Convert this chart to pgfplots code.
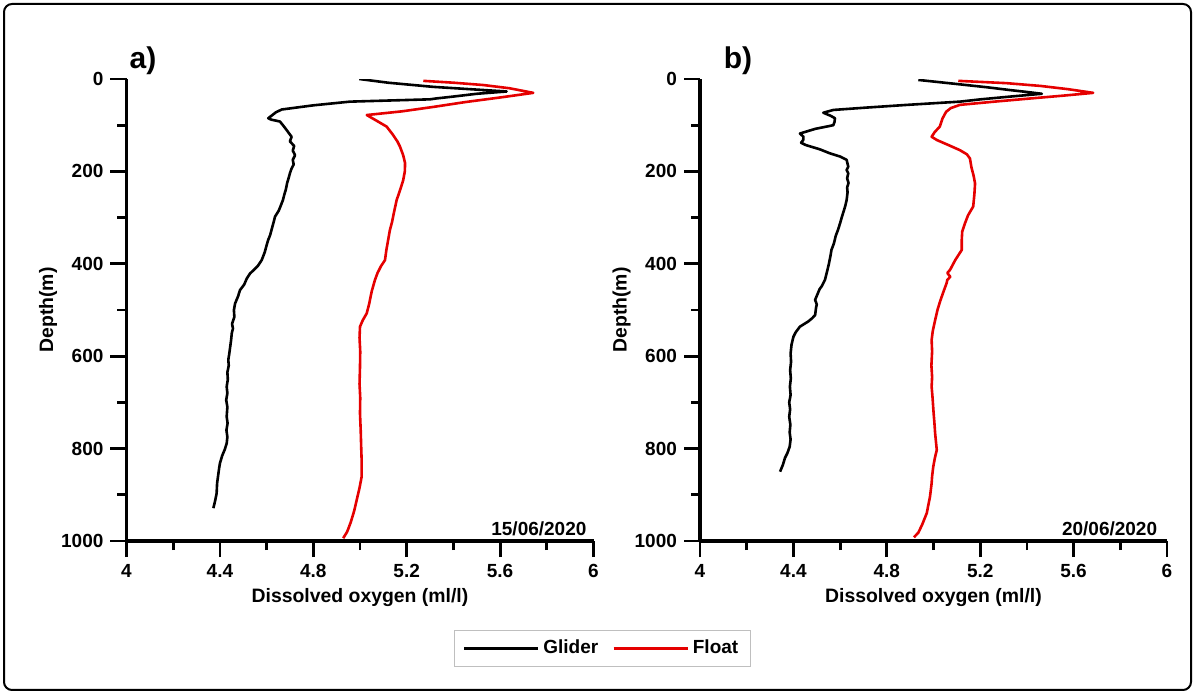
\documentclass[border=0pt]{standalone}
\usepackage{fontspec}
\setmainfont{Liberation Sans}
\usepackage{pgfplots}
\pgfplotsset{compat=1.18}

\pgfplotsset{
 panel/.style={
  scale only axis, width=233.5pt, height=231pt,
  xmin=4, xmax=6, ymin=0, ymax=1000, y dir=reverse,
  clip mode=individual,
  axis x line*=bottom, axis y line*=left,
  axis line style={line width=1.6pt},
  every tick/.style={line width=1.4pt, black},
  tick align=outside,
  major tick length=8pt, minor tick length=4.5pt,
  xtick={4,4.4,4.8,5.2,5.6,6}, minor xtick={4.2,4.6,5,5.4,5.8},
  ytick={0,200,400,600,800,1000}, minor ytick={100,300,500,700,900},
  /pgf/number format/assume math mode=true,
  /pgf/number format/set thousands separator={},
  tick label style={font=\fontsize{9.5}{11}\selectfont\bfseries},
  label style={font=\fontsize{9.7}{11}\selectfont\bfseries},
  xlabel={Dissolved oxygen (ml/l)},
  ylabel={Depth(m)},
  xlabel style={at={(axis description cs:0.5,-0.134)}, anchor=base},
  ylabel style={at={(axis description cs:-0.168,0.5)}, anchor=center},
 },
 glider/.style={black, line width=1.3pt, line join=round},
 float/.style={red!90!black, line width=1.3pt, line join=round},
}

\begin{document}
\begin{tikzpicture}
\useasboundingbox (0,0) rectangle (597.5pt,-347pt);
\draw[line width=1pt, rounded corners=4pt] (2pt,-2pt) rectangle (595.5pt,-345pt);

% ---------------- panel a ----------------
\begin{axis}[panel, at={(63.25pt,-270.5pt)}, anchor=south west,
  legend columns=2,
  legend style={at={(axis description cs:1.0193,-0.2327)}, anchor=center,
    draw=gray!50, line width=0.6pt, font=\fontsize{9.5}{11}\selectfont\bfseries,
    inner xsep=4pt, inner ysep=3pt,
    /tikz/every even column/.append style={column sep=5pt}},
  legend image code/.code={\draw[#1] (0pt,0pt) -- (37pt,0pt);},
]
\addplot[glider] coordinates {
(4.997,0) (5.12,8) (5.313,17) (5.47,22) (5.628,27) (5.50,32) (5.40,38) (5.328,42) (5.30,44)
(4.957,49) (4.80,57) (4.665,66) (4.64,72) (4.607,85) (4.62,88) (4.657,92) (4.67,100)
(4.685,110) (4.707,125) (4.700,135) (4.718,145) (4.712,155) (4.722,165) (4.712,175) (4.716,185)
(4.706,195) (4.700,204) (4.694,215) (4.688,225) (4.682,240) (4.676,250) (4.670,262)
(4.660,275) (4.652,285) (4.636,298) (4.630,310) (4.622,325) (4.615,338) (4.607,348)
(4.600,360) (4.592,375) (4.579,392) (4.562,405) (4.548,412) (4.529,421) (4.515,432)
(4.504,445) (4.486,457) (4.478,470) (4.465,486) (4.460,500) (4.462,515) (4.452,530)
(4.456,540) (4.451,550) (4.448,565) (4.444,580) (4.440,595) (4.436,608) (4.438,620)
(4.432,635) (4.434,650) (4.429,666) (4.432,680) (4.427,695) (4.432,710) (4.429,731)
(4.433,745) (4.428,760) (4.432,775) (4.429,789) (4.420,803) (4.410,815) (4.400,832)
(4.396,845) (4.392,860) (4.388,875) (4.386,897) (4.380,912) (4.372,929)
};
\addlegendentry{Glider}
\addplot[float] coordinates {
(5.271,4) (5.40,8) (5.527,13) (5.64,20) (5.742,30) (5.60,40) (5.45,50) (5.32,60)
(5.18,70) (5.029,78) (5.07,90) (5.114,103) (5.14,120) (5.160,135) (5.171,146)
(5.185,165) (5.193,182) (5.192,200) (5.185,219) (5.172,240) (5.157,262) (5.145,290)
(5.137,310) (5.128,327) (5.120,350) (5.113,370) (5.107,392) (5.090,405) (5.075,420)
(5.064,435) (5.050,460) (5.040,485) (5.029,507) (5.012,522) (5.000,536) (4.998,560)
(5.001,590) (5.000,623) (4.998,660) (5.001,690) (5.000,724) (5.003,760) (5.005,795)
(5.007,825) (5.007,861) (4.998,885) (4.986,911) (4.975,935) (4.960,960) (4.945,980) (4.928,994)
};
\addlegendentry{Float}
\node[anchor=base east, font=\fontsize{9.5}{11}\selectfont\bfseries]
  at (axis description cs:1,0.011) {15/06/2020};
\node[anchor=base west, inner sep=0pt, font=\fontsize{15}{17}\selectfont\bfseries]
  at (axis description cs:0.006,1.0238) {a)};
\end{axis}

% ---------------- panel b ----------------
\begin{axis}[panel, at={(350pt,-270.5pt)}, anchor=south west]
\addplot[glider] coordinates {
(4.935,2) (5.084,10) (5.231,18) (5.328,24) (5.399,28) (5.464,32) (5.330,38) (5.202,44)
(5.113,49) (4.887,56) (4.709,62) (4.571,67) (4.528,73) (4.561,80) (4.578,85) (4.576,93)
(4.571,100) (4.493,108) (4.428,118) (4.443,125) (4.442,132) (4.433,138) (4.453,143)
(4.512,152) (4.557,161) (4.601,168) (4.628,175) (4.635,190) (4.628,197) (4.635,204)
(4.630,215) (4.636,225) (4.630,235) (4.632,245) (4.628,262) (4.622,275) (4.616,285)
(4.608,298) (4.600,312) (4.592,325) (4.581,340) (4.574,355) (4.563,370) (4.558,385)
(4.552,400) (4.545,415) (4.535,435) (4.522,448) (4.512,455) (4.493,478) (4.500,488)
(4.497,495) (4.493,511) (4.480,518) (4.463,525) (4.428,536) (4.410,548) (4.400,558)
(4.392,575) (4.388,594) (4.390,612) (4.386,630) (4.389,648) (4.385,666) (4.388,684)
(4.382,700) (4.386,715) (4.382,731) (4.387,748) (4.384,765) (4.388,780) (4.384,796)
(4.374,810) (4.364,820) (4.355,835) (4.343,850)
};
\addplot[float] coordinates {
(5.106,4) (5.313,9) (5.458,15) (5.576,22) (5.684,30) (5.556,36) (5.418,42) (5.261,49)
(5.113,56) (5.074,63) (5.054,71) (5.039,85) (5.027,103) (5.005,115) (4.992,125)
(5.014,132) (5.064,143) (5.113,154) (5.143,163) (5.156,172) (5.162,190) (5.172,210)
(5.178,226) (5.175,250) (5.170,276) (5.148,295) (5.135,312) (5.123,330) (5.121,348)
(5.121,370) (5.093,392) (5.071,413) (5.059,420) (5.072,428) (5.059,435) (5.056,442)
(5.043,460) (5.029,480) (5.017,500) (5.007,522) (4.997,545) (4.992,565) (4.994,590)
(4.991,620) (4.994,645) (4.992,666) (4.996,690) (5.000,720) (5.004,745) (5.007,767)
(5.014,803) (5.006,820) (4.999,839) (4.994,860) (4.992,875) (4.985,904) (4.971,940)
(4.951,965) (4.935,982) (4.916,992)
};
\node[anchor=base east, font=\fontsize{9.5}{11}\selectfont\bfseries]
  at (axis description cs:0.994,0.011) {20/06/2020};
\node[anchor=base west, inner sep=0pt, font=\fontsize{15}{17}\selectfont\bfseries]
  at (axis description cs:0.05,1.0238) {b)};
\end{axis}
\end{tikzpicture}
\end{document}
